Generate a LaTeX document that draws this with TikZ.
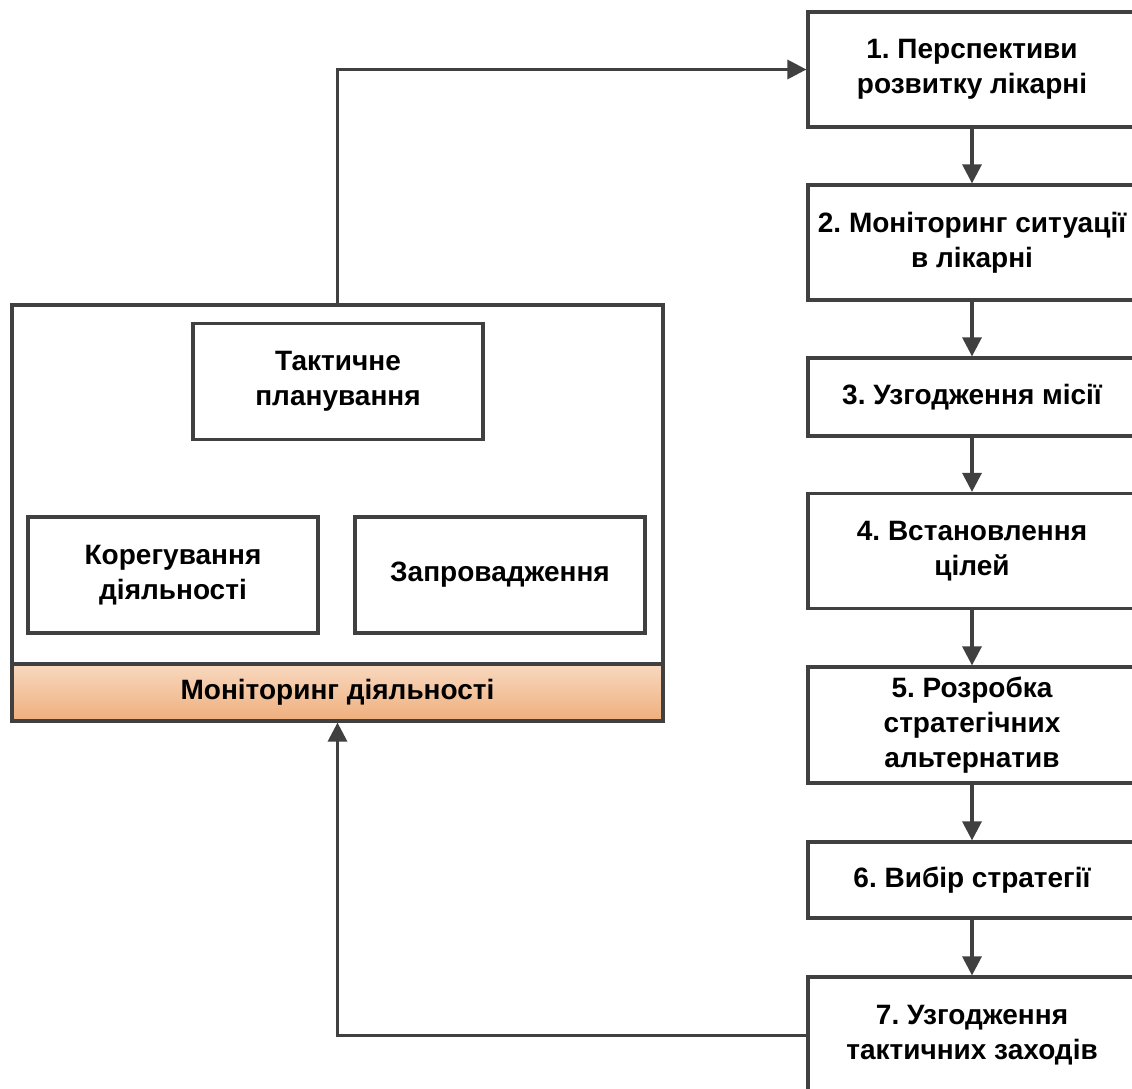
\documentclass[tikz,border=0pt]{standalone}
\usepackage{fontspec}
\setmainfont{Liberation Sans}
\usetikzlibrary{arrows.meta}
\definecolor{edge}{HTML}{404040}
\definecolor{bandtop}{HTML}{F8D9C0}
\definecolor{bandbot}{HTML}{EFAE7C}
\frenchspacing
\begin{document}
\begin{tikzpicture}[x=1pt,y=-1pt,
  lbl/.style={font=\fontsize{28}{35}\selectfont\bfseries, align=center, text=black},
  stepbox/.style={lbl, draw=edge, line width=3.2pt, fill=white, inner sep=0pt,
    minimum width=328pt},
  innerbox/.style={lbl, draw=edge, line width=3.2pt, fill=white, inner sep=0pt,
    minimum height=116pt},
  arr/.style={draw=edge, line width=3.2pt, -{Triangle[length=19pt,width=19pt]}}]
\clip (0,0) rectangle (1132,1089);
\fill[white] (0,0) rectangle (1132,1089);

% outer block with its monitoring band
\node[draw=edge, line width=3.2pt, fill=white, minimum width=651pt, minimum height=416pt,
  inner sep=0pt] (outer) at (337.5,513) {};
\node[lbl, draw=edge, line width=3.2pt, top color=bandtop, bottom color=bandbot,
  minimum width=651pt, minimum height=57pt, inner sep=0pt] (band) at (337.5,692.5)
  {Моніторинг діяльності};

\node[innerbox, minimum width=290pt] (tact) at (338,381.5) {Тактичне\\планування};
\node[innerbox, minimum width=290pt] (kor) at (173,575) {Корегування\\діяльності};
\node[innerbox, minimum width=290pt] (zap) at (500,575) {Запровадження};

% strategic steps
\node[stepbox, minimum height=115pt] (s1) at (972,69.5) {1. Перспективи\\розвитку лікарні};
\node[stepbox, minimum height=115pt] (s2) at (972,242.5) {2. Моніторинг ситуації\\в лікарні};
\node[stepbox, minimum height=78pt] (s3) at (972,397) {3. Узгодження місії};
\node[stepbox, minimum height=115pt] (s4) at (972,551) {4. Встановлення\\цілей};
\node[stepbox, minimum height=116pt] (s5) at (972,725) {5. Розробка\\стратегічних\\альтернатив};
\node[stepbox, minimum height=76pt] (s6) at (972,880) {6. Вибір стратегії};
\node[stepbox, minimum height=117pt] (s7) at (972,1035.5) {7. Узгодження\\тактичних заходів};

\foreach \a/\b in {s1/s2,s2/s3,s3/s4,s4/s5,s5/s6,s6/s7}
  \draw[arr] (\a.south) -- (\b.north);

\draw[arr] (outer.north) |- (s1.west);
\draw[arr] (s7.west) -| (band.south);
\end{tikzpicture}
\end{document}
